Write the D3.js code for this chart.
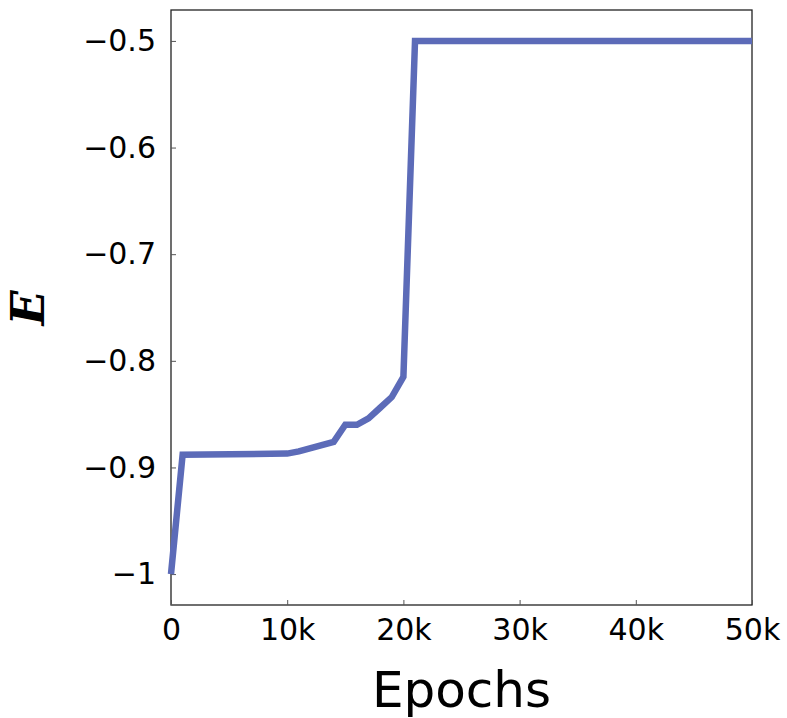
<!DOCTYPE html>
<html>
<head>
<meta charset="utf-8">
<script src="https://cdn.jsdelivr.net/npm/d3@7"></script>
<style>
  body { margin: 0; background: #fff; }
  svg { display: block; }
</style>
</head>
<body>
<svg id="chart" width="787" height="718"></svg>
<script>
const epochs = [0, 1000, 10000, 11000, 14000, 15000, 16000, 17000, 18000, 19000, 20000, 21000, 50000];
const energy = [-1.0, -0.888, -0.887, -0.885, -0.876, -0.860, -0.860, -0.854, -0.844, -0.834, -0.815, -0.5, -0.5];
const xTicks = [0, 10000, 20000, 30000, 40000, 50000];
const xTickLabels = ["0", "10k", "20k", "30k", "40k", "50k"];
const yTicks = [-1, -0.9, -0.8, -0.7, -0.6, -0.5];
const yTickLabels = ["\u22121", "\u22120.9", "\u22120.8", "\u22120.7", "\u22120.6", "\u22120.5"];

const svg = d3.select("#chart");
const L = 171, R = 752, T = 10, B = 605;

const x = d3.scaleLinear().domain([0, 50000]).range([L, R]);
const y = d3.scaleLinear().domain([-1.029, -0.471]).range([B, T]);

const tickFont = "'DejaVu Sans', sans-serif";

// frame
svg.append("rect").attr("x", L).attr("y", T).attr("width", R - L).attr("height", B - T)
  .attr("fill", "none").attr("stroke", "#222").attr("stroke-width", 1.3);

// axes
const xAxis = d3.axisBottom(x).tickValues(xTicks)
  .tickFormat((d, i) => xTickLabels[i]).tickSizeInner(-5).tickSizeOuter(0).tickPadding(14);
const gx = svg.append("g").attr("transform", `translate(0,${B})`).call(xAxis);
gx.select(".domain").remove();
gx.selectAll(".tick line").attr("stroke", "#555").attr("stroke-width", 1);
gx.selectAll(".tick text").attr("font-family", tickFont).attr("font-size", 30).attr("fill", "#000");

const yAxis = d3.axisLeft(y).tickValues(yTicks)
  .tickFormat((d, i) => yTickLabels[i]).tickSizeInner(-5).tickSizeOuter(0).tickPadding(15);
const gy = svg.append("g").attr("transform", `translate(${L},0)`).call(yAxis);
gy.select(".domain").remove();
gy.selectAll(".tick line").attr("stroke", "#555").attr("stroke-width", 1);
gy.selectAll(".tick text").attr("font-family", tickFont).attr("font-size", 30).attr("fill", "#000");

// line
const line = d3.line().x((d, i) => x(epochs[i])).y(d => y(d));
svg.append("path").datum(energy).attr("d", line)
  .attr("fill", "none").attr("stroke", "#5c6bb8").attr("stroke-width", 6.5)
  .attr("stroke-linejoin", "miter");

// labels
svg.append("text").attr("x", (L + R) / 2).attr("y", 707).attr("text-anchor", "middle")
  .attr("font-family", tickFont).attr("font-size", 50).attr("fill", "#000").text("Epochs");

svg.append("text").attr("transform", "translate(44,308) rotate(-90)")
  .attr("text-anchor", "middle")
  .attr("font-family", "'DejaVu Serif', serif").attr("font-style", "italic").attr("font-weight", "bold")
  .attr("font-size", 46).attr("fill", "#000").text("E");
</script>
</body>
</html>
